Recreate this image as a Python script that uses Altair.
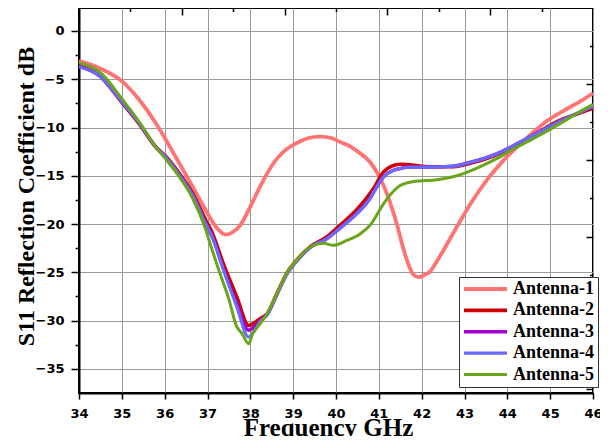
import altair as alt
import pandas as pd

names = ["Antenna-1", "Antenna-2", "Antenna-3", "Antenna-4", "Antenna-5"]
colors = ["#ff7373", "#d00000", "#a000d0", "#6a6aff", "#6aa51c"]
widths = [3.8, 3, 3, 3, 3]

freq_1 = [34.0, 34.5, 35.0, 35.4, 35.9, 36.25, 36.65, 36.95, 37.2, 37.43, 37.6, 37.75, 38.0, 38.23,
          38.54, 38.8, 39.09, 39.35, 39.63, 39.9, 40.1, 40.35, 40.57, 40.8, 40.96, 41.11, 41.25,
          41.42, 41.55, 41.66, 41.8, 41.93, 42.05, 42.2, 42.35, 42.51, 42.82, 43.14, 43.53, 43.91,
          44.3, 44.6, 44.93, 45.3, 45.7, 46.0]
s11_1 = [-3.1, -3.9, -5.2, -7.1, -10.3, -13.0, -16.1, -18.5, -20.3, -21.1, -20.8, -20.2, -18.2, -16.1,
         -13.7, -12.4, -11.6, -11.1, -10.95, -11.1, -11.5, -12.0, -12.7, -13.6, -14.7, -16.0, -17.6,
         -20.0, -22.2, -23.8, -25.2, -25.5, -25.3, -24.9, -23.9, -22.7, -20.3, -17.9, -15.4, -13.4,
         -11.7, -10.5, -9.3, -8.3, -7.3, -6.45]

freq_2 = [34.0, 34.47, 35.0, 35.4, 35.79, 36.03, 36.34, 36.65, 36.96, 37.1, 37.37, 37.68, 37.96, 38.1,
          38.23, 38.39, 38.62, 38.85, 39.09, 39.4, 39.79, 40.1, 40.49, 40.88, 41.11, 41.3, 41.5, 41.7,
          42.12, 42.75, 43.14, 43.53, 43.91, 44.3, 44.69, 45.16, 45.5, 46.0]
s11_2 = [-3.6, -4.6, -7.4, -9.6, -12.0, -13.0, -14.75, -16.8, -19.6, -20.8, -24.1, -27.5, -30.5, -30.2,
         -29.8, -29.3, -27.2, -25.1, -23.7, -22.35, -21.3, -20.1, -18.5, -16.3, -14.6, -14.0, -13.8, -13.85,
         -14.06, -14.06, -13.7, -13.2, -12.5, -11.6, -10.6, -9.4, -8.8, -8.0]

freq_3 = [34.0, 34.47, 35.0, 35.4, 35.79, 36.03, 36.34, 36.65, 36.96, 37.1, 37.37, 37.68, 37.96, 38.1,
          38.23, 38.39, 38.62, 38.85, 39.09, 39.4, 39.79, 40.1, 40.49, 40.8, 40.88, 41.11, 41.3, 41.5,
          41.7, 42.12, 42.75, 43.14, 43.53, 43.91, 44.3, 44.69, 45.16, 45.5, 46.0]
s11_3 = [-3.7, -4.6, -7.3, -9.5, -12.0, -13.1, -14.9, -17.0, -20.0, -21.2, -24.6, -28.2, -31.0, -30.6,
         -30.0, -29.4, -27.3, -25.2, -23.8, -22.4, -21.5, -20.4, -18.9, -17.3, -16.7, -15.1, -14.5, -14.25,
         -14.1, -14.1, -14.0, -13.6, -13.1, -12.4, -11.5, -10.6, -9.5, -8.8, -7.8]

freq_4 = [34.0, 34.47, 35.0, 35.4, 35.79, 36.03, 36.34, 36.65, 36.96, 37.1, 37.37, 37.68, 37.96, 38.1,
          38.23, 38.39, 38.62, 38.85, 39.09, 39.4, 39.79, 40.1, 40.49, 40.8, 40.88, 41.11, 41.3, 41.5,
          41.7, 42.12, 42.75, 43.14, 43.53, 43.91, 44.3, 44.69, 45.16, 45.5, 46.0]
s11_4 = [-3.7, -4.6, -7.3, -9.5, -12.0, -13.1, -14.9, -17.0, -20.0, -21.2, -24.7, -28.5, -31.7, -31.0,
         -30.1, -29.4, -27.3, -25.2, -23.8, -22.4, -21.5, -20.4, -18.9, -17.3, -16.7, -15.1, -14.5, -14.25,
         -14.1, -14.1, -14.0, -13.6, -13.1, -12.4, -11.5, -10.6, -9.5, -8.8, -7.8]

freq_5 = [34.0, 34.47, 35.0, 35.4, 35.79, 36.03, 36.34, 36.65, 36.96, 37.08, 37.29, 37.5, 37.68, 37.8,
          37.96, 38.05, 38.11, 38.23, 38.39, 38.62, 38.85, 39.09, 39.4, 39.71, 39.94, 40.25, 40.57, 40.8,
          41.11, 41.19, 41.5, 41.81, 42.36, 42.82, 43.29, 43.76, 44.15, 44.69, 45.24, 45.6, 46.0]
s11_5 = [-3.3, -4.2, -7.0, -9.4, -12.0, -13.3, -15.1, -17.3, -20.6, -22.3, -25.1, -27.8, -30.6, -31.3,
         -32.4, -31.4, -31.0, -30.3, -29.3, -27.2, -25.1, -23.7, -22.35, -22.0, -22.2, -21.7, -21.0, -20.1,
         -17.9, -17.4, -16.0, -15.6, -15.4, -15.0, -14.2, -13.2, -12.2, -10.95, -9.57, -8.6, -7.6]

x_major = list(range(34, 47))
x_minor = [34.5 + i for i in range(12)]
y_major = [0, -5, -10, -15, -20, -25, -30, -35]
y_minor = [-2.5, -7.5, -12.5, -17.5, -22.5, -27.5, -32.5]
top_long = [36.4, 38.8, 41.2, 43.6]
top_short = [35.2, 37.6, 40.0, 42.4, 44.8]
right_long = [-5.5, -13.4, -21.3, -29.2, -37.1]
right_short = [-1.6, -9.45, -17.35, -25.25, -33.15]

freqs = [freq_1, freq_2, freq_3, freq_4, freq_5]
vals = [s11_1, s11_2, s11_3, s11_4, s11_5]
rows = []
for name, fr, vs in zip(names, freqs, vals):
    for i, (f, v) in enumerate(zip(fr, vs)):
        rows.append({"series": name, "freq": f, "s11": v, "idx": i})
df = pd.DataFrame(rows)

xscale = alt.Scale(domain=[34, 46], nice=False, zero=False)
yscale = alt.Scale(domain=[-37.5, 2.38], nice=False, zero=False)

LABEL_FONT = "DejaVu Sans"
TITLE_FONT = "Liberation Serif"

bottom_axis = alt.Axis(
    values=x_major + x_minor,
    format="d",
    labelExpr="datum.value % 1 == 0 ? datum.label : ''",
    labelFont=LABEL_FONT, labelFontWeight="bold", labelFontSize=13, labelColor="black",
    labelPadding=8, labelFlush=False,
    tickSize={"condition": {"test": "datum.value % 1 != 0", "value": 3.5}, "value": 6},
    tickColor="black", tickWidth=1.5,
    grid=True, gridColor="#9a9a9a", gridWidth=1,
    gridOpacity={"condition": {"test": "datum.value % 1 != 0", "value": 0}, "value": 1},
    domainColor="black", domainWidth=2,
    title="Frequency GHz", titleFont=TITLE_FONT, titleFontWeight="bold", titleFontSize=25,
    titleColor="black", titleX=249, titleY=42, titleBaseline="alphabetic",
)
left_axis = alt.Axis(
    values=y_major + y_minor,
    format="d",
    labelExpr="datum.value % 5 == 0 ? datum.label : ''",
    labelFont=LABEL_FONT, labelFontWeight="bold", labelFontSize=13, labelColor="black",
    labelPadding=7, labelFlush=False,
    tickSize={"condition": {"test": "datum.value % 5 != 0", "value": 4}, "value": 8},
    tickColor="black", tickWidth=1.5,
    grid=True, gridColor="#9a9a9a", gridWidth=1,
    gridOpacity={"condition": {"test": "datum.value % 5 != 0", "value": 0}, "value": 1},
    domainColor="black", domainWidth=2,
    title="S11 Reflection Coefficient dB", titleFont=TITLE_FONT, titleFontWeight="bold",
    titleFontSize=24, titleColor="black", titleX=-46, titleY=188, titleBaseline="alphabetic",
)


def inner_axis(orient, values, size):
    return alt.Axis(orient=orient, values=values, labels=False, grid=False, domain=False,
                    ticks=True, tickSize=size, offset=-size, tickColor="black", tickWidth=1.5,
                    title="")


main = alt.Chart(df).mark_line(interpolate="monotone").encode(
    x=alt.X("freq:Q", scale=xscale, axis=bottom_axis),
    y=alt.Y("s11:Q", scale=yscale, axis=left_axis),
    color=alt.Color(
        "series:N",
        scale=alt.Scale(domain=names, range=colors),
        legend=alt.Legend(
            orient="none", legendX=380, legendY=269, title=None,
            symbolType="stroke", symbolSize=1849, symbolStrokeWidth=3,
            labelFont=TITLE_FONT, labelFontWeight="bold", labelFontSize=18, labelColor="black",
            strokeColor="#333333", fillColor="white", padding=3, rowPadding=3.4,
            labelOffset=4, clipHeight=18,
        ),
    ),
    strokeWidth=alt.StrokeWidth("series:N", scale=alt.Scale(domain=names, range=widths), legend=None),
    order="idx:Q",
)

ghost_long = alt.Chart(df).mark_line(opacity=0).encode(
    x=alt.X("freq:Q", scale=xscale, axis=inner_axis("top", top_long, 7)),
    y=alt.Y("s11:Q", scale=yscale, axis=inner_axis("right", right_long, 7)),
    detail="series:N",
)
ghost_short = alt.Chart(df).mark_line(opacity=0).encode(
    x=alt.X("freq:Q", scale=xscale, axis=inner_axis("top", top_short, 3.5)),
    y=alt.Y("s11:Q", scale=yscale, axis=inner_axis("right", right_short, 3.5)),
    detail="series:N",
)

chart = alt.layer(main, ghost_long, ghost_short).resolve_axis(
    x="independent", y="independent"
).properties(
    width=514, height=385,
    autosize=alt.AutoSizeParams(type="none"),
    padding={"left": 71, "top": 0, "right": 7, "bottom": 43},
    background="white",
).configure_view(stroke="black", strokeWidth=2)

chart.save("out.html", embed_options={"renderer": "svg", "actions": False})
